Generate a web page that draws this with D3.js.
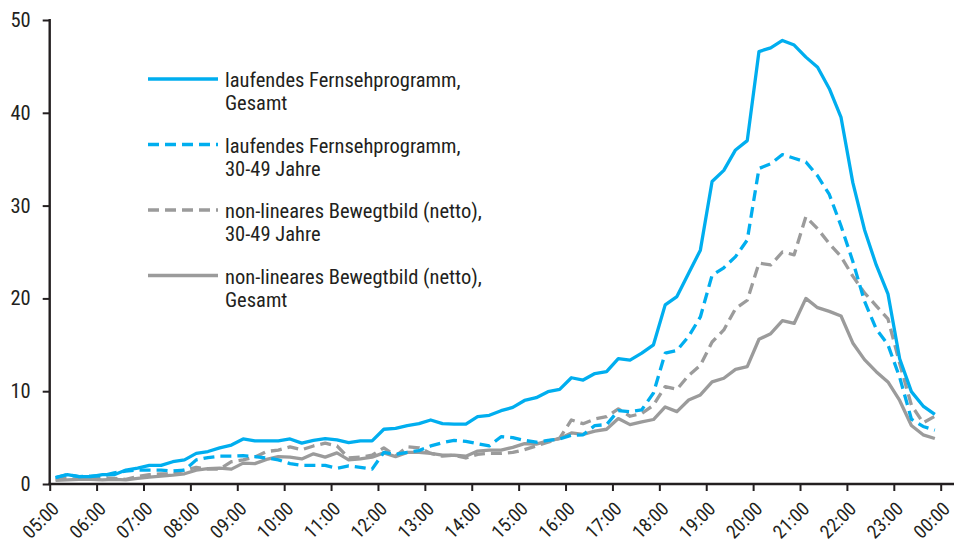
<!DOCTYPE html>
<html>
<head>
<meta charset="utf-8">
<script src="https://cdn.jsdelivr.net/npm/d3@7"></script>
<style>
  html, body { margin: 0; padding: 0; background: #fff; }
  svg { display: block; }
  text { font-family: "Liberation Sans Narrow", "Arial Narrow", "Roboto Condensed", "DejaVu Sans Condensed", sans-serif; fill: #231f20; }
</style>
</head>
<body>
<svg id="chart" width="954" height="544"></svg>
<script>
// Tick labels of the time axis (05:00 .. 00:00)
const timeLabels = ["05:00","06:00","07:00","08:00","09:00","10:00","11:00","12:00","13:00","14:00",
  "15:00","16:00","17:00","18:00","19:00","20:00","21:00","22:00","23:00","00:00"];
const yTicks = [0, 10, 20, 30, 40, 50];

// Quarter-hour values, 05:00-05:15 ... 23:45-00:00 (76 intervals)
const tvTotal = [0.7,1.0,0.8,0.8,1.0,1.0,1.5,1.7,2.0,2.0,2.4,2.6,3.3,3.5,3.9,4.2,
  4.85,4.65,4.65,4.65,4.85,4.4,4.7,4.9,4.75,4.45,4.65,4.65,5.9,6.0,6.3,6.5,
  6.9,6.5,6.45,6.45,7.25,7.4,7.9,8.25,9.0,9.3,9.95,10.2,11.45,11.2,11.9,12.1,
  13.5,13.35,14.1,15.0,19.3,20.2,22.7,25.2,32.6,33.8,36.0,37.0,46.6,47.0,47.8,47.3,
  46.0,44.9,42.6,39.5,32.5,27.4,23.6,20.5,13.5,9.95,8.4,7.5];
const tv3049 = [0.7,1.0,0.8,0.85,0.9,1.2,1.4,1.5,1.5,1.5,1.4,1.5,2.6,2.85,3.0,3.0,
  3.05,2.95,2.8,2.6,2.2,2.0,2.0,2.0,1.7,1.95,1.8,1.6,3.4,3.2,3.4,3.6,
  4.1,4.45,4.7,4.6,4.35,4.1,5.1,5.0,4.7,4.5,4.7,4.85,5.25,5.3,6.3,6.4,
  7.9,7.8,8.0,9.8,14.1,14.4,15.9,18.0,22.5,23.3,24.5,26.3,34.0,34.5,35.5,35.1,
  34.7,33.2,31.2,27.8,24.0,19.7,16.7,15.0,11.5,7.0,6.2,5.8];
const nonlin3049 = [0.5,0.6,0.5,0.6,0.7,0.6,0.5,0.8,1.0,1.1,1.1,1.5,1.8,1.6,1.6,2.4,
  2.6,2.9,3.5,3.65,4.0,3.7,4.1,4.4,4.1,2.8,2.9,3.1,3.9,3.0,4.0,3.9,
  3.3,3.0,3.1,2.8,3.2,3.3,3.3,3.4,3.7,4.1,4.5,4.95,6.9,6.5,7.0,7.25,
  8.1,7.3,7.6,8.5,10.5,10.2,11.7,12.8,15.3,16.6,18.9,19.8,23.8,23.6,25.0,24.7,
  28.8,27.5,25.9,24.5,22.4,20.6,19.2,17.8,13.0,8.5,6.6,7.3];
const nonlinTotal = [0.4,0.45,0.5,0.5,0.45,0.5,0.45,0.6,0.75,0.85,0.95,1.1,1.5,1.65,1.7,1.6,
  2.25,2.2,2.65,2.95,2.9,2.7,3.25,2.9,3.35,2.6,2.7,2.9,3.35,2.95,3.4,3.4,
  3.3,3.1,3.1,3.0,3.55,3.65,3.65,3.95,4.35,4.3,4.65,4.9,5.5,5.35,5.7,5.9,
  7.05,6.4,6.7,6.95,8.3,7.8,9.05,9.6,11.0,11.4,12.35,12.65,15.6,16.2,17.6,17.3,
  20.0,19.0,18.6,18.1,15.2,13.4,12.1,11.0,9.0,6.3,5.3,4.9];

const seriesNames = [
  ["laufendes Fernsehprogramm,", "Gesamt"],
  ["laufendes Fernsehprogramm,", "30-49 Jahre"],
  ["non-lineares Bewegtbild (netto),", "30-49 Jahre"],
  ["non-lineares Bewegtbild (netto),", "Gesamt"]
];

const BLUE = "#00aeef", GREY = "#9b9b9b", INK = "#231f20";
const series = [
  { name: seriesNames[0], values: tvTotal, color: BLUE, dash: null },
  { name: seriesNames[1], values: tv3049, color: BLUE, dash: "11,6" },
  { name: seriesNames[2], values: nonlin3049, color: GREY, dash: "11,6" },
  { name: seriesNames[3], values: nonlinTotal, color: GREY, dash: null }
];

const svg = d3.select("#chart");
const W = 954, H = 544;
const m = { left: 49.7, right: 13.3, top: 20, bottom: 60 };

const x = d3.scaleLinear().domain([0, timeLabels.length - 1]).range([m.left, W - m.right]);
const y = d3.scaleLinear().domain([0, 50]).range([H - m.bottom, m.top]);

const line = d3.line()
  .x((d, i) => x((i + 0.5) / 4))
  .y(d => y(d));

const drawOrder = [3, 2, 1, 0];
drawOrder.forEach(k => {
  const s = series[k];
  svg.append("path")
    .datum(s.values)
    .attr("fill", "none")
    .attr("stroke", s.color)
    .attr("stroke-width", 3.3)
    .attr("stroke-linejoin", "round")
    .attr("stroke-dasharray", s.dash)
    .attr("d", line);
});

// Y axis
const yAxis = svg.append("g")
  .attr("transform", `translate(${m.left},0)`)
  .call(d3.axisLeft(y).tickValues(yTicks).tickSize(7).tickPadding(12).tickFormat(d3.format("d")));
yAxis.select(".domain").remove();
yAxis.selectAll(".tick line").attr("stroke", INK).attr("stroke-width", 2);
yAxis.selectAll(".tick text").style("font-size", "20.5px").attr("fill", INK);
svg.append("line")
  .attr("x1", m.left).attr("x2", m.left)
  .attr("y1", y(50) - 1).attr("y2", y(0) + 1)
  .attr("stroke", INK).attr("stroke-width", 2.4);

// X axis
const xAxis = svg.append("g")
  .attr("transform", `translate(0,${y(0)})`)
  .call(d3.axisBottom(x).tickValues(d3.range(timeLabels.length)).tickSize(7).tickFormat(i => timeLabels[i]));
xAxis.select(".domain").remove();
xAxis.selectAll(".tick line").attr("stroke", INK).attr("stroke-width", 2);
xAxis.selectAll(".tick text")
  .style("font-size", "19px")
  .attr("fill", INK)
  .attr("text-anchor", "end")
  .attr("dy", null)
  .attr("y", 0)
  .attr("transform", "translate(10,26) rotate(-45)");
svg.append("line")
  .attr("x1", m.left - 1.2).attr("x2", W)
  .attr("y1", y(0)).attr("y2", y(0))
  .attr("stroke", INK).attr("stroke-width", 2.4);

// Legend
const legend = svg.append("g").attr("transform", "translate(148,79)");
series.forEach((s, k) => {
  const g = legend.append("g").attr("transform", `translate(0,${k * 65.5})`);
  g.append("line")
    .attr("x1", 0).attr("x2", 70).attr("y1", 0).attr("y2", 0)
    .attr("stroke", s.color).attr("stroke-width", 3.3)
    .attr("stroke-dasharray", s.dash);
  s.name.forEach((t, j) => {
    g.append("text")
      .attr("x", 77).attr("y", 8 + j * 23)
      .style("font-size", "20.5px")
      .text(t);
  });
});
</script>
</body>
</html>
